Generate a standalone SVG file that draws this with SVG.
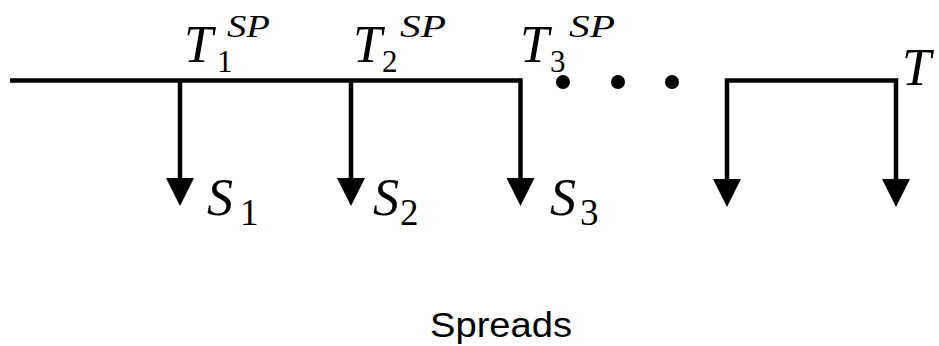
<svg xmlns="http://www.w3.org/2000/svg" width="939" height="346" viewBox="0 0 939 346">
  <style>
    .ln { stroke: #000; stroke-width: 4.5; fill: none; }
    .arr { marker-end: url(#head); }
    .mi { font-family: "Liberation Serif", serif; font-style: italic; fill: #000; }
    .rm { font-family: "Liberation Serif", serif; fill: #000; }
    .big { font-size: 52px; }
    .sup { font-size: 32px; }
    .sub { font-size: 31px; }
    .ssub { font-size: 37px; }
    .cap { font-family: "Liberation Sans", sans-serif; font-size: 35px; fill: #000; }
  </style>
  <defs>
    <marker id="head" markerUnits="userSpaceOnUse" markerWidth="30" markerHeight="30" viewBox="0 -15 30 30" refX="0" refY="0" orient="auto">
      <path d="M0,-14 L28,0 L0,14 Z" fill="#000"/>
    </marker>
  </defs>

  <!-- timeline and spread payments -->
  <g id="connectors">
    <line class="ln" x1="10" y1="80.5" x2="522" y2="80.5"/>
    <line class="ln arr" x1="180" y1="80" x2="180" y2="178"/>
    <line class="ln arr" x1="351" y1="80" x2="351" y2="178"/>
    <line class="ln arr" x1="520.5" y1="78.5" x2="520.5" y2="178"/>
    <polyline class="ln" points="727,178 727,80.5 896,80.5 896,178"/>
    <line class="ln arr" x1="727" y1="178" x2="727" y2="179"/>
    <line class="ln arr" x1="896" y1="178" x2="896" y2="179"/>
  </g>

  <g id="ellipsis">
    <circle cx="563" cy="82" r="7"/>
    <circle cx="618" cy="82" r="7"/>
    <circle cx="672" cy="82" r="7"/>
  </g>

  <!-- reset dates -->
  <g id="t1">
    <text class="mi big" x="184" y="62">T</text>
    <text class="mi sup" x="227" y="37" textLength="43" lengthAdjust="spacingAndGlyphs">SP</text>
    <text class="rm sub" x="217" y="72">1</text>
  </g>
  <g id="t2">
    <text class="mi big" x="353" y="62">T</text>
    <text class="mi sup" x="400" y="37" textLength="46" lengthAdjust="spacingAndGlyphs">SP</text>
    <text class="rm sub" x="382" y="72">2</text>
  </g>
  <g id="t3">
    <text class="mi big" x="520" y="62">T</text>
    <text class="mi sup" x="569" y="37" textLength="46" lengthAdjust="spacingAndGlyphs">SP</text>
    <text class="rm sub" x="550" y="72">3</text>
  </g>
  <g id="tend">
    <text class="mi big" x="902" y="85">T</text>
  </g>

  <!-- spread labels -->
  <g id="s1">
    <text class="mi big" x="207" y="215">S</text>
    <text class="rm ssub" x="240" y="225">1</text>
  </g>
  <g id="s2">
    <text class="mi big" x="373" y="215">S</text>
    <text class="rm ssub" x="400" y="225">2</text>
  </g>
  <g id="s3">
    <text class="mi big" x="550" y="215">S</text>
    <text class="rm ssub" x="580" y="225">3</text>
  </g>

  <g id="caption">
    <text class="cap" x="430" y="337" textLength="142" lengthAdjust="spacingAndGlyphs">Spreads</text>
  </g>
</svg>
